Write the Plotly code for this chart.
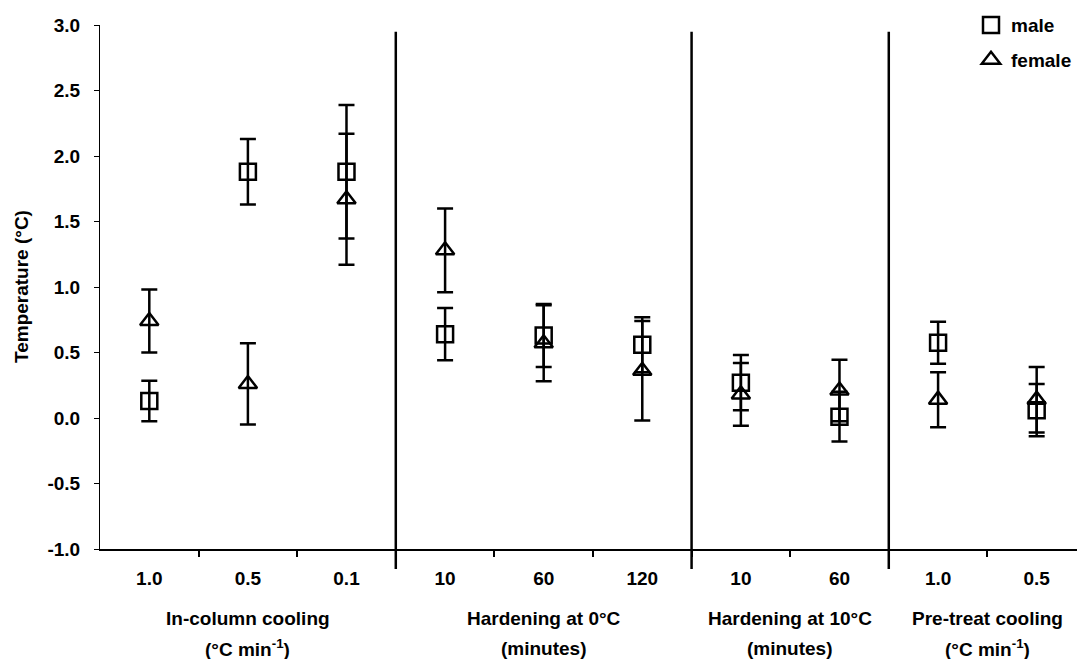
import plotly.graph_objects as go

# ---- data ----
categories = ["1.0", "0.5", "0.1", "10", "60", "120", "10", "60", "1.0", "0.5"]
male_mean = [0.13, 1.88, 1.88, 0.64, 0.63, 0.56, 0.27, 0.01, 0.575, 0.06]
male_err = [0.155, 0.25, 0.51, 0.20, 0.24, 0.21, 0.21, 0.19, 0.16, 0.20]
female_mean = [0.74, 0.26, 1.67, 1.28, 0.57, 0.36, 0.18, 0.21, 0.14, 0.14]
female_err = [0.24, 0.31, 0.50, 0.32, 0.29, 0.38, 0.24, 0.235, 0.21, 0.25]
group_titles = ["In-column cooling", "Hardening at 0°C", "Hardening at 10°C", "Pre-treat cooling"]
group_units = ["(°C min<sup>-1</sup>)", "(minutes)", "(minutes)", "(°C min<sup>-1</sup>)"]
group_sizes = [3, 3, 2, 2]
y_ticks = [-1.0, -0.5, 0.0, 0.5, 1.0, 1.5, 2.0, 2.5, 3.0]
y_ticktext = ["-1.0", "-0.5", "0.0", "0.5", "1.0", "1.5", "2.0", "2.5", "3.0"]

FONT = "Liberation Sans, Arial, sans-serif"
FS = 19
WEIGHT = "bold"
xpos = list(range(len(categories)))

def f(size=FS):
    return dict(family=FONT, size=size, color="black", weight=WEIGHT)

fig = go.Figure()
fig.add_trace(go.Scatter(
    x=xpos, y=male_mean, mode="markers", name="male", legendgroup="m",
    marker=dict(symbol="square-open", size=16, color="black", line=dict(width=2.5, color="black")),
    error_y=dict(type="data", array=male_err, visible=True, color="black", thickness=2.5, width=8),
))
fig.add_trace(go.Scatter(
    x=xpos, y=female_mean, mode="markers", name="female", legendgroup="f",
    marker=dict(symbol="triangle-up-open", size=16, color="black", line=dict(width=2.5, color="black")),
    error_y=dict(type="data", array=female_err, visible=True, color="black", thickness=2.5, width=8),
))

# group dividers and labels
bounds = []
start = 0
for s in group_sizes:
    bounds.append((start - 0.5, start + s - 0.5))
    start += s
for i, (a, b) in enumerate(bounds):
    if i > 0:
        fig.add_shape(type="line", xref="x", yref="paper", x0=a, x1=a, y0=-0.038, y1=0.987,
                      line=dict(color="black", width=2.5))
    c = (a + b) / 2
    fig.add_annotation(x=c, xref="x", yref="paper", y=-0.1317, text=group_titles[i],
                       showarrow=False, yanchor="middle", font=f())
    fig.add_annotation(x=c, xref="x", yref="paper", y=-0.189, text=group_units[i],
                       showarrow=False, yanchor="middle", font=f())

fig.add_annotation(x=(21 - 100) / 977.0, xref="paper", xanchor="center", y=0.5, yref="paper",
                   text="Temperature (°C)", textangle=-90, showarrow=False, font=f())

minor_vals = [i + 0.5 for i in range(len(categories) - 1)]

fig.update_layout(
    width=1077, height=659,
    margin=dict(l=100, r=0, t=25, b=110),
    paper_bgcolor="white", plot_bgcolor="white",
    font=f(),
    showlegend=True,
    legend=dict(x=(971 - 100) / 977.0, xanchor="left", y=1.036, yanchor="top",
                font=f(),
                bgcolor="rgba(0,0,0,0)", tracegroupgap=7, itemwidth=30),
    xaxis=dict(range=[-0.5, 9.409], tickmode="array", tickvals=xpos, ticktext=categories,
               ticks="outside", ticklen=0, showgrid=False, zeroline=False,
               showline=True, linecolor="black", linewidth=1.5,
               ticklabelstandoff=11,
               minor=dict(tickmode="array", tickvals=minor_vals, ticks="outside", ticklen=6,
                          tickcolor="black", tickwidth=1.5),
               tickfont=f()),
    yaxis=dict(range=[-1, 3], tickmode="array", tickvals=y_ticks, ticktext=y_ticktext,
               ticks="outside", ticklen=5, tickcolor="black", tickwidth=1,
               showgrid=False, zeroline=False, showline=True, linecolor="black", linewidth=1,
               tickfont=f(), ticklabelstandoff=10),
)

fig.write_html("out.html")
